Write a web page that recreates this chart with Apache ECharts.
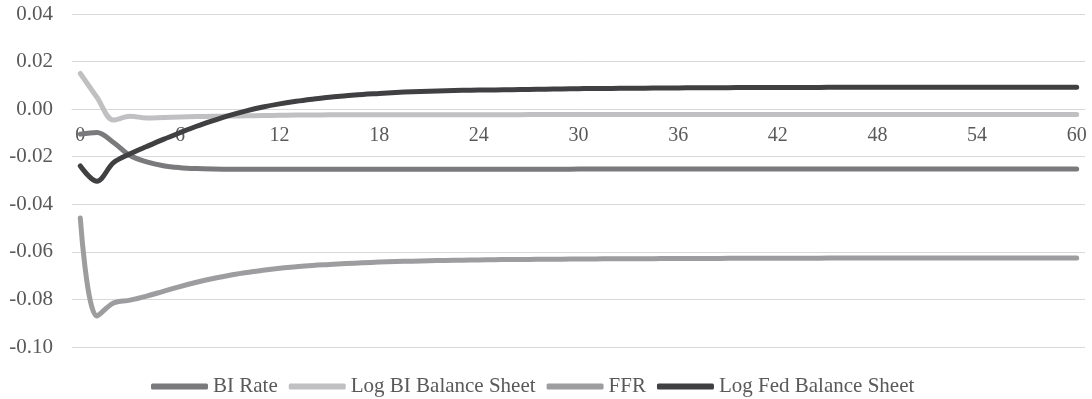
<!DOCTYPE html>
<html>
<head>
<meta charset="utf-8">
<script src="https://cdn.jsdelivr.net/npm/echarts@6/dist/echarts.min.js"></script>
<style>
  html, body { margin: 0; padding: 0; background: #ffffff; }
  #chart { width: 1092px; height: 399px; }
</style>
</head>
<body>
<div id="chart"></div>
<script>
// Periods 0..60
const periods = Array.from({length: 61}, (_, i) => String(i));

const seriesNames = ['BI Rate', 'Log BI Balance Sheet', 'FFR', 'Log Fed Balance Sheet'];

const biRate = [
  -0.0105, -0.0098, -0.0140, -0.0195, -0.0222, -0.0238, -0.0246, -0.0250, -0.0252, -0.0253,
  -0.0253, -0.0253, -0.0253, -0.0253, -0.0253, -0.0253, -0.0253, -0.0253, -0.0253, -0.0253,
  -0.0253, -0.0253, -0.0253, -0.0253, -0.0253, -0.0253, -0.0253, -0.0253, -0.0253, -0.0253,
  -0.0252, -0.0252, -0.0252, -0.0252, -0.0252, -0.0252, -0.0252, -0.0252, -0.0252, -0.0252,
  -0.0252, -0.0252, -0.0252, -0.0252, -0.0252, -0.0252, -0.0252, -0.0252, -0.0252, -0.0252,
  -0.0252, -0.0252, -0.0252, -0.0252, -0.0252, -0.0252, -0.0252, -0.0252, -0.0252, -0.0252,
  -0.0252
];

const logBIBalance = [
  0.0150, 0.0050, -0.0046, -0.0030, -0.0037, -0.0035, -0.0033, -0.0031, -0.0030, -0.0029,
  -0.0028, -0.0027, -0.0026, -0.0025, -0.0025, -0.0024, -0.0024, -0.0024, -0.0024, -0.0024,
  -0.0024, -0.0024, -0.0024, -0.0024, -0.0024, -0.0024, -0.0024, -0.0023, -0.0023, -0.0023,
  -0.0023, -0.0023, -0.0023, -0.0023, -0.0023, -0.0023, -0.0023, -0.0023, -0.0023, -0.0023,
  -0.0023, -0.0022, -0.0022, -0.0022, -0.0022, -0.0022, -0.0022, -0.0022, -0.0022, -0.0022,
  -0.0022, -0.0022, -0.0022, -0.0022, -0.0022, -0.0022, -0.0022, -0.0022, -0.0022, -0.0022,
  -0.0022
];

const ffr = [
  -0.0458, -0.0870, -0.0815, -0.0803, -0.0786, -0.0766, -0.0746, -0.0728, -0.0712, -0.0698,
  -0.0687, -0.0677, -0.0669, -0.0663, -0.0657, -0.0653, -0.0649, -0.0646, -0.0643, -0.0641,
  -0.0639, -0.0637, -0.0636, -0.0635, -0.0634, -0.0633, -0.0632, -0.0632, -0.0631, -0.0631,
  -0.0630, -0.0630, -0.0629, -0.0629, -0.0629, -0.0628, -0.0628, -0.0628, -0.0628, -0.0627,
  -0.0627, -0.0627, -0.0627, -0.0627, -0.0627, -0.0626, -0.0626, -0.0626, -0.0626, -0.0626,
  -0.0626, -0.0626, -0.0626, -0.0626, -0.0626, -0.0626, -0.0626, -0.0626, -0.0626, -0.0626,
  -0.0626
];

const logFedBalance = [
  -0.0239, -0.0303, -0.0225, -0.0188, -0.0157, -0.0127, -0.0099, -0.0072, -0.0048, -0.0026,
  -0.0007, 0.0009, 0.0022, 0.0033, 0.0042, 0.0050, 0.0056, 0.0062, 0.0066, 0.0070,
  0.0073, 0.0075, 0.0077, 0.0079, 0.0080, 0.0081, 0.0082, 0.0083, 0.0084, 0.0085,
  0.0086, 0.0087, 0.0087, 0.0088, 0.0088, 0.0089, 0.0089, 0.0090, 0.0090, 0.0090,
  0.0091, 0.0091, 0.0091, 0.0091, 0.0091, 0.0092, 0.0092, 0.0092, 0.0092, 0.0092,
  0.0092, 0.0092, 0.0092, 0.0092, 0.0092, 0.0092, 0.0092, 0.0092, 0.0092, 0.0092,
  0.0092
];

const seriesData = [biRate, logBIBalance, ffr, logFedBalance];
const seriesColors = ['#7a7a7d', '#c0c0c3', '#9d9da0', '#404042'];

const yMin = -0.10, yMax = 0.04, yStep = 0.02;

const fontFamily = 'Liberation Serif';
const textColor = '#595959';
const gridColor = '#d9d9d9';

const gridTop = 14, gridBottom = 52, chartHeight = 399;
const plotHeight = chartHeight - gridTop - gridBottom;
// shift the x axis up so that it sits on the y = 0 line
const zeroOffset = -plotHeight * (0 - yMin) / (yMax - yMin);

const chart = echarts.init(document.getElementById('chart'), null, {renderer: 'canvas'});

chart.setOption({
  animation: false,
  backgroundColor: '#ffffff',
  grid: { left: 72, right: 7, top: gridTop, bottom: gridBottom, containLabel: false },
  legend: {
    data: seriesNames,
    left: 146,
    top: 371,
    itemWidth: 57,
    itemHeight: 6,
    itemGap: 11,
    icon: 'roundRect',
    textStyle: { fontFamily: fontFamily, fontSize: 21, color: textColor }
  },
  xAxis: {
    type: 'category',
    data: periods,
    boundaryGap: true,
    offset: zeroOffset,
    axisLine: { show: true, onZero: false, lineStyle: { color: gridColor, width: 1 } },
    axisTick: { show: false },
    axisLabel: {
      interval: 5,
      margin: 17,
      fontFamily: fontFamily,
      fontSize: 20,
      color: textColor
    },
    splitLine: { show: false }
  },
  yAxis: {
    type: 'value',
    min: yMin,
    max: yMax,
    interval: yStep,
    axisLine: { show: false },
    axisTick: { show: false },
    axisLabel: {
      margin: 19,
      fontFamily: fontFamily,
      fontSize: 21,
      color: textColor,
      formatter: v => v.toFixed(2)
    },
    splitLine: { show: true, lineStyle: { color: gridColor, width: 1 } }
  },
  series: seriesNames.map((name, i) => ({
    name: name,
    type: 'line',
    data: seriesData[i],
    smooth: 0.35,
    symbol: 'none',
    showSymbol: false,
    color: seriesColors[i],
    lineStyle: { color: seriesColors[i], width: 5, cap: 'round', join: 'round' },
    itemStyle: { color: seriesColors[i] },
    emphasis: { disabled: true }
  }))
});
</script>
</body>
</html>
